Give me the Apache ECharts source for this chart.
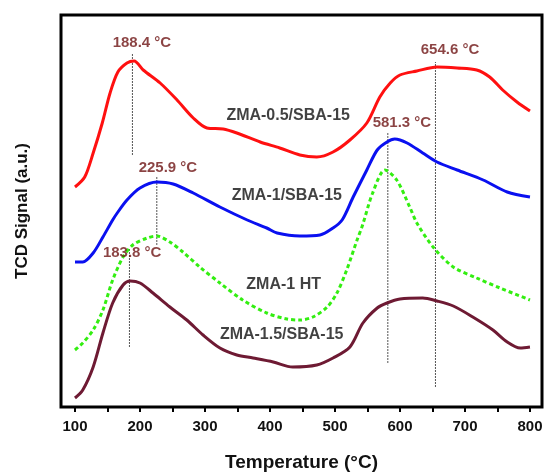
<!DOCTYPE html>
<html>
<head>
<meta charset="utf-8">
<script src="https://cdn.jsdelivr.net/npm/echarts@6/dist/echarts.min.js"></script>
<style>
  html, body { margin: 0; padding: 0; background: #fff; }
  #chart { width: 544px; height: 473px; }
</style>
</head>
<body>
<div id="chart"></div>
<script>
// TPR curves, [temperature (°C), signal (a.u.)]
const zma05 = [[100,220],[115,230],[128,254],[142,284],[154,314],[166,335],[180,344],[191,346],[205,337],[231,324],
  [257,307],[282,289],[303,279],[328,278],[349,274],[385,265],[415,259],[446,252],[472,250],[497,255],
  [523,267],[549,284],[569,310],[585,324],[600,332],[626,336],[657,340],[688,339],[718,337],[738,330],
  [758,317],[780,305],[800,296]];
const zma1 = [[100,145],[112,145],[128,154],[143,170],[158,187],[165,194],[180,207],[200,219],[226,225],[251,223],
  [282,214],[323,200],[365,187],[395,179],[411,174],[446,171],[477,172],[497,179],[511,187],[528,210],
  [549,237],[565,257],[580,265],[592,268],[611,264],[635,254],[657,245],[688,237],[728,227],[765,215],[800,210]];
const zma1ht = [[100,57],[112,64],[128,77],[143,97],[158,127],[174,150],[189,162],[211,169],[226,171],[246,165],
  [266,155],[292,140],[323,124],[358,107],[395,94],[426,88],[446,87],[466,90],[488,100],[503,114],
  [518,137],[534,167],[542,181],[558,214],[577,237],[595,227],[615,200],[626,184],[651,160],[682,140],
  [718,129],[754,119],[800,107]];
const zma15 = [[100,9],[112,17],[128,40],[143,74],[158,104],[174,122],[185,126],[200,124],[220,114],[246,100],
  [272,87],[297,72],[323,59],[349,52],[374,49],[405,45],[435,40],[472,42],[497,49],[523,60],
  [543,84],[565,99],[580,104],[600,108],[635,109],[657,106],[682,101],[712,90],[743,77],[765,65],
  [785,59],[800,60]];

const seriesNames = ['ZMA-0.5/SBA-15', 'ZMA-1/SBA-15', 'ZMA-1 HT', 'ZMA-1.5/SBA-15'];
const peakTemps = [188.4, 225.9, 183.8, 581.3, 654.6];
const tickValues = [100, 150, 200, 250, 300, 350, 400, 450, 500, 550, 600, 650, 700, 750, 800];
const labelValues = [100, 200, 300, 400, 500, 600, 700, 800];

const font = 'Arial, "Liberation Sans", sans-serif';

// dotted drop lines: [bottom, top] in signal units
const peakSpans = [[252, 354], [162, 231], [60, 159], [44, 274], [20, 345]];
// where the peak labels sit
const peakLabelPos = [[203, 364], [243, 239], [188, 154], [603, 284], [677, 357]];
// where the curve names sit
const nameLabelPos = [[428, 291], [426, 211], [421, 122], [418, 72]];

const chart = echarts.init(document.getElementById('chart'));

const curve = (name, data, color, dashed) => ({
  name: name,
  type: 'line',
  data: data,
  smooth: 0.3,
  symbol: 'none',
  z: 3,
  lineStyle: { color: color, width: 3, type: dashed ? [4, 3] : 'solid' }
});

const series = [
  curve(seriesNames[0], zma05, '#ff1010'),
  curve(seriesNames[1], zma1, '#0a10f0'),
  curve(seriesNames[2], zma1ht, '#33ee11', true),
  curve(seriesNames[3], zma15, '#6e1a33')
];

peakTemps.forEach((t, i) => {
  series.push({
    type: 'line',
    data: [[t, peakSpans[i][0]], [t, peakSpans[i][1]]],
    symbol: 'none',
    silent: true,
    z: 2,
    lineStyle: { color: '#555', width: 1, type: [2, 1] }
  });
});

series.push({
  type: 'scatter',
  symbolSize: 0,
  silent: true,
  z: 5,
  data: peakTemps.map((t, i) => ({ value: peakLabelPos[i], name: t.toFixed(1) + ' °C' })),
  label: {
    show: true, position: 'inside', formatter: '{b}',
    color: '#6e1414', fontSize: 15, fontWeight: 'bold', fontFamily: font
  }
});

series.push({
  type: 'scatter',
  symbolSize: 0,
  silent: true,
  z: 5,
  data: seriesNames.map((n, i) => ({ value: nameLabelPos[i], name: n })),
  label: {
    show: true, position: 'inside', formatter: '{b}',
    color: '#111', fontSize: 16, fontWeight: 'bold', fontFamily: font
  }
});

chart.setOption({
  animation: false,
  backgroundColor: '#fff',
  grid: {
    left: 61, right: 2, top: 15, bottom: 66,
    containLabel: false,
    outerBoundsMode: 'none',
    show: true, borderColor: '#000', borderWidth: 3
  },
  xAxis: {
    type: 'value',
    min: 78.5,
    max: 818.5,
    name: 'Temperature (°C)',
    nameLocation: 'middle',
    nameGap: 46,
    nameTextStyle: { fontSize: 19, fontWeight: 'bold', color: '#111', fontFamily: font },
    axisLine: { show: false },
    splitLine: { show: false },
    axisTick: {
      show: true, inside: false, length: 5, customValues: tickValues,
      lineStyle: { color: '#000', width: 2 }
    },
    axisLabel: {
      customValues: labelValues, margin: 12,
      fontSize: 15, fontWeight: 'bold', color: '#111', fontFamily: font
    }
  },
  yAxis: {
    type: 'value',
    min: 0,
    max: 392,
    name: 'TCD Signal (a.u.)',
    nameLocation: 'middle',
    nameRotate: 90,
    nameGap: 30,
    nameTextStyle: { fontSize: 17, fontWeight: 'bold', color: '#111', fontFamily: font },
    axisLine: { show: false },
    axisTick: { show: false },
    axisLabel: { show: false },
    splitLine: { show: false }
  },
  series: series
});
</script>
</body>
</html>
